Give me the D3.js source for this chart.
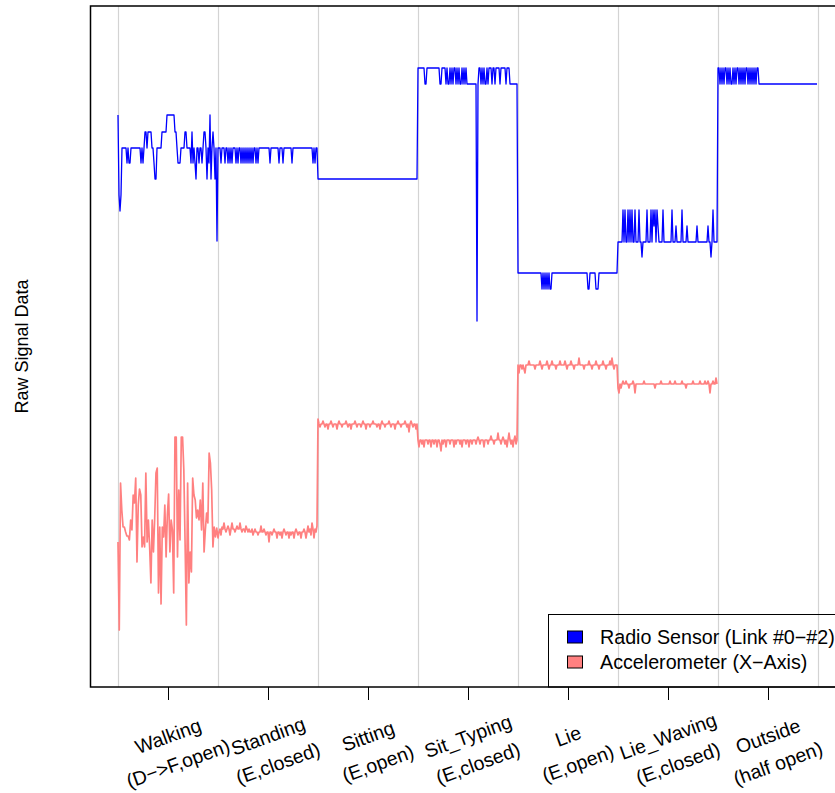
<!DOCTYPE html>
<html>
<head>
<meta charset="utf-8">
<script src="https://cdn.jsdelivr.net/npm/d3@7"></script>
<style>
  html, body { margin: 0; padding: 0; background: #fff; }
  svg { display: block; font-family: "Liberation Sans", Arial, Helvetica, sans-serif; }
</style>
</head>
<body>
<svg id="chart" width="835" height="793"></svg>
<script>
// Activities recorded, in order; each one spans 100 samples on the time axis
const activities = ["Walking", "Standing", "Sitting", "Sit_Typing", "Lie", "Lie_Waving", "Outside"];
const conditions = ["(D\u2212>F,open)", "(E,closed)", "(E,open)", "(E,closed)", "(E,open)", "(E,closed)", "(half open)"];
const seriesNames = ["Radio Sensor (Link #0\u2212#2)", "Accelerometer (X\u2212Axis)"];
const samplesPerActivity = 100;

// Radio link readings, run-length coded as [level, repeat count] per activity
const radioWalking = [[572,1],[492,1],[476,1],[492,1],[539,5],[524,1],[539,1],[524,2],[539,10],[524,1],[539,1],[524,1],[539,1],[555,2],[539,1],[555,4],[539,2],[524,1],[508,2],[539,5],[555,5],[572,8],[555,2],[539,1],[524,3],[539,4],[555,2],[539,4],[524,1],[555,1],[524,1],[539,1],[524,1],[508,1],[539,2],[524,1],[539,2],[524,1],[539,1],[555,2],[539,1],[508,1],[539,1],[524,1],[572,1],[508,1],[539,1],[555,1],[539,1],[508,1],[539,1],[446,1]];
const radioStanding = [[539,3],[524,1],[539,3],[524,1],[539,2],[524,1],[539,1],[524,1],[539,1],[524,1],[539,3],[524,1],[539,1],[524,1],[539,2],[524,1],[539,1],[524,1],[539,1],[524,1],[539,1],[524,1],[539,1],[524,1],[539,1],[524,1],[539,1],[524,1],[539,2],[524,1],[539,1],[524,1],[539,11],[524,1],[539,8],[524,1],[539,3],[524,1],[539,8],[524,1],[539,20],[524,1],[539,1],[524,1],[539,2]];
const radioSitting = [[508,100]];
const radioSitTyping = [[619,7],[603,2],[619,13],[603,2],[619,4],[603,1],[619,1],[603,2],[619,1],[603,1],[619,1],[603,1],[619,2],[603,1],[619,1],[603,1],[619,1],[603,2],[619,1],[603,1],[619,1],[603,1],[619,1],[603,10],[366,1],[603,1],[619,2],[603,1],[619,1],[603,1],[619,1],[603,2],[619,1],[603,1],[619,3],[603,1],[619,2],[603,1],[619,4],[603,1],[619,5],[603,1],[619,3],[603,8]];
const radioLie = [[414,24],[398,1],[414,1],[398,1],[414,1],[398,1],[414,1],[398,1],[414,1],[398,2],[414,36],[398,2],[414,6],[398,3],[414,19]];
const radioLieWaving = [[445,5],[477,1],[445,1],[477,1],[445,2],[477,1],[445,1],[477,1],[445,1],[477,1],[445,2],[477,1],[445,3],[477,1],[445,2],[430,1],[445,4],[477,1],[445,3],[477,1],[445,1],[477,1],[461,1],[477,1],[445,1],[477,1],[461,1],[445,4],[477,1],[445,8],[477,1],[445,3],[461,1],[445,5],[477,1],[445,4],[461,1],[445,9],[461,1],[445,10],[461,1],[445,2],[430,1],[445,1],[477,1],[445,4]];
const radioOutside = [[619,2],[603,1],[619,1],[603,1],[619,1],[603,1],[619,2],[603,1],[619,1],[603,1],[619,1],[603,2],[619,1],[603,1],[619,1],[603,1],[619,2],[603,1],[619,1],[603,1],[619,1],[603,1],[619,1],[603,1],[619,2],[603,1],[619,1],[603,1],[619,1],[603,1],[619,1],[603,1],[619,1],[603,1],[619,2],[603,59]];

// Accelerometer X readings per activity (no accelerometer recording outside)
const accelWalking = [145,57,204,177,160,160,155,151,151,147,167,157,192,184,209,125,182,198,192,140,150,140,214,145,167,140,104,167,135,169,214,219,94,160,83,160,150,182,130,172,193,135,167,157,94,250,250,130,197,147,250,250,217,144,62,204,104,135,115,209,192,187,169,177,167,187,157,204,135,157,174,164,234,224,197,140,160,150,159];
const accelStanding = [149,155,158,152,160,158,164,158,155,158,161,158,152,158,164,158,158,155,158,161,158,158,164,158,155,158,158,155,161,158,155,158,155,155,158,152,155,158,155,155,152,155,155,161,155,155,158,155,152,155,155,145,155,155,152,155,158,155,155,149,155,155,152,155,149,155,158,155,152,155,155,149,155,152,155,155,149,155,158,155,152,155,155,149,155,155,158,155,149,155,161,155,158,152,164,158,149,158,155,161];
const accelSitting = [268,263,260,263,263,266,263,260,263,263,258,263,263,266,263,260,263,263,263,258,263,266,263,263,260,263,263,263,266,263,260,263,263,258,263,263,263,266,263,260,263,263,263,260,263,266,263,263,258,263,263,263,260,263,263,266,263,263,263,260,263,263,258,263,266,263,263,260,263,263,263,266,263,260,263,263,263,258,263,263,266,263,263,260,263,263,263,266,263,260,263,255,263,266,263,260,263,263,258,263];
const accelSitTyping = [247,240,247,247,243,247,240,247,247,247,243,247,247,240,247,247,243,247,247,240,247,247,243,236,247,243,247,247,240,247,247,247,243,247,247,247,240,247,243,247,247,247,243,247,240,247,247,247,243,247,247,240,247,247,243,247,247,247,243,247,250,247,243,247,247,247,240,247,247,247,243,247,247,251,247,247,243,247,247,247,254,247,247,243,247,250,247,243,247,240,247,254,247,243,247,240,247,251,243,247];
const accelLie = [322,314,322,322,318,322,318,314,322,322,322,326,322,322,322,322,322,318,322,322,322,322,326,322,318,322,322,322,322,326,322,318,322,322,326,322,322,322,318,322,322,322,326,322,322,322,322,326,322,318,322,322,322,326,322,322,318,322,322,322,322,329,322,322,322,322,318,322,322,322,322,326,322,322,318,322,322,322,326,322,322,318,322,322,322,326,322,322,318,322,322,322,326,322,329,322,318,322,322,322];
const accelLieWaving = [299,294,303,299,303,306,303,303,306,303,303,299,303,303,303,306,303,294,303,303,303,303,303,303,303,303,306,303,303,303,303,303,303,303,303,303,303,299,303,303,303,303,303,306,303,303,303,303,303,303,303,303,306,303,303,303,303,306,303,303,303,303,303,303,306,303,303,303,299,303,303,303,303,303,303,306,303,303,303,303,303,303,306,303,303,303,303,306,303,303,306,303,294,303,303,306,303,303,309,303];

const radioRuns = [radioWalking, radioStanding, radioSitting, radioSitTyping, radioLie, radioLieWaving, radioOutside];
const accelSegments = [accelWalking, accelStanding, accelSitting, accelSitTyping, accelLie, accelLieWaving];

// Decode the radio runs into one sample per time step
const radioPoints = [];
radioRuns.forEach((runs, k) => {
  let t = k * samplesPerActivity;
  runs.forEach(([level, count]) => {
    for (let c = 0; c < count; c++) radioPoints.push({ t: t++, v: level });
  });
});

// Accelerometer samples are spread evenly over each activity window
const accelPoints = [];
accelSegments.forEach((vals, k) => {
  vals.forEach((v, j) => accelPoints.push({ t: k * samplesPerActivity + j * samplesPerActivity / vals.length, v }));
});

const nTotal = activities.length * samplesPerActivity;
const plot = { left: 90, top: 6, right: 846, bottom: 687 };

const x = d3.scaleLinear()
  .domain([-0.04 * nTotal, 1.04 * nTotal])
  .range([plot.left, plot.right]);
const y = d3.scaleLinear()
  .domain([0, 681])
  .range([plot.bottom, plot.top]);

const svg = d3.select("#chart");

// Activity boundaries
svg.append("g")
  .selectAll("line")
  .data(d3.range(activities.length + 1).map(k => k * samplesPerActivity))
  .join("line")
  .attr("x1", d => x(d) + 0.5).attr("x2", d => x(d) + 0.5)
  .attr("y1", plot.top).attr("y2", plot.bottom)
  .attr("stroke", "#d3d3d3").attr("stroke-width", 1.2);

const line = d3.line().x(d => x(d.t)).y(d => y(d.v));

svg.append("path")
  .datum(radioPoints)
  .attr("d", line)
  .attr("fill", "none")
  .attr("stroke", "#0000ff")
  .attr("stroke-width", 1.3)
  .attr("stroke-linejoin", "round");

svg.append("path")
  .datum(accelPoints)
  .attr("d", line)
  .attr("fill", "none")
  .attr("stroke", "#ff8080")
  .attr("stroke-width", 1.7)
  .attr("stroke-linejoin", "round");

// Tick marks at the centre of each activity
const axis = d3.axisBottom(x)
  .tickValues(activities.map((_, k) => k * samplesPerActivity + samplesPerActivity / 2))
  .tickFormat("")
  .tickSize(13)
  .tickSizeOuter(0);
const axisG = svg.append("g")
  .attr("transform", `translate(0,${plot.bottom})`)
  .call(axis);
axisG.select(".domain").remove();
axisG.selectAll(".tick line").attr("stroke", "#000").attr("stroke-width", 1);

// Rotated two-line activity labels
const labelFont = 19.5;
const labelG = svg.append("g")
  .selectAll("g")
  .data(activities.map((a, k) => ({ a, c: conditions[k], t: k * samplesPerActivity + samplesPerActivity / 2 })))
  .join("g")
  .attr("transform", d => `translate(${x(d.t)},736) rotate(-20)`);
labelG.append("text")
  .attr("text-anchor", "middle").attr("dominant-baseline", "central")
  .attr("font-size", labelFont)
  .text(d => d.a);
labelG.append("text")
  .attr("y", 29)
  .attr("text-anchor", "middle").attr("dominant-baseline", "central")
  .attr("font-size", labelFont)
  .text(d => d.c);

// Y axis title
svg.append("text")
  .attr("transform", `translate(22,${(plot.top + plot.bottom) / 2}) rotate(-90)`)
  .attr("text-anchor", "middle").attr("dominant-baseline", "central")
  .attr("font-size", 18)
  .text("Raw Signal Data");

// Plot frame
svg.append("rect")
  .attr("x", plot.left + 0.5).attr("y", plot.top)
  .attr("width", plot.right - plot.left).attr("height", plot.bottom - plot.top)
  .attr("fill", "none").attr("stroke", "#000").attr("stroke-width", 1.5);

// Legend in the bottom-right corner
const legendColors = ["#0000ff", "#ff8080"];
const legend = svg.append("g");
legend.append("rect")
  .attr("x", 548.5).attr("y", 614.5)
  .attr("width", plot.right - 548).attr("height", plot.bottom - 614.5)
  .attr("fill", "none").attr("stroke", "#000").attr("stroke-width", 1);
const rows = legend.selectAll("g.row")
  .data(seriesNames.map((n, i) => ({ n, c: legendColors[i], i })))
  .join("g")
  .attr("class", "row")
  .attr("transform", d => `translate(0,${637 + d.i * 25})`);
rows.append("rect")
  .attr("x", 567.5).attr("y", -6)
  .attr("width", 15).attr("height", 12)
  .attr("fill", d => d.c).attr("stroke", "#000").attr("stroke-width", 1);
rows.append("text")
  .attr("x", 600).attr("dominant-baseline", "central")
  .attr("font-size", 19.7)
  .text(d => d.n);
</script>
</body>
</html>
